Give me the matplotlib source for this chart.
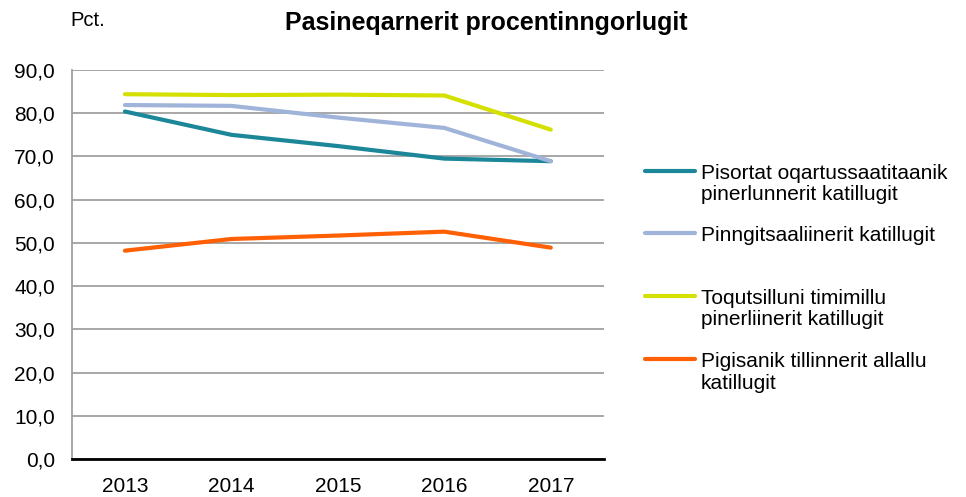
import matplotlib.pyplot as plt
from matplotlib.lines import Line2D

plt.rcParams['font.family'] = ['Liberation Sans', 'DejaVu Sans']

# Data
years = ['2013', '2014', '2015', '2016', '2017']
pisortat = [80.4, 75.0, 72.4, 69.5, 68.9]
pinngitsaaliinerit = [81.9, 81.7, 79.0, 76.6, 68.9]
toqutsilluni = [84.4, 84.2, 84.3, 84.1, 76.2]
pigisanik = [48.2, 50.9, 51.7, 52.6, 48.9]

labels = ['Pisortat oqartussaatitaanik\npinerlunnerit katillugit',
          'Pinngitsaaliinerit katillugit',
          'Toqutsilluni timimillu\npinerliinerit katillugit',
          'Pigisanik tillinnerit allallu\nkatillugit']
colors = ['#1b8799', '#a0b4da', '#d4e000', '#ff5f05']
series = [pisortat, pinngitsaaliinerit, toqutsilluni, pigisanik]

W, H = 966, 497
fig = plt.figure(figsize=(W / 100, H / 100), dpi=100)
ax = fig.add_axes([71.7 / W, 1 - 459 / H, (604 - 71.7) / W, (459 - 70) / H])

x = range(len(years))
for vals, c in zip(series, colors):
    ax.plot(x, vals, color=c, lw=3.0, solid_capstyle='round', zorder=3)

ax.set_xlim(-0.5, len(years) - 0.5)
ax.set_ylim(0, 90)
ax.set_yticks(range(0, 91, 10))
ax.set_yticklabels([f'{v:.1f}'.replace('.', ',') for v in range(0, 91, 10)], fontsize=15)
ax.set_xticks(list(x))
ax.set_xticklabels(years, fontsize=15)
ax.tick_params(axis='y', length=0, pad=12)
ax.tick_params(axis='x', length=0, pad=13)
ax.grid(axis='y', color='#a0a0a0', lw=1.3, zorder=0)
for s in ['top', 'right']:
    ax.spines[s].set_visible(False)
ax.spines['left'].set_color('#a0a0a0')
ax.spines['left'].set_linewidth(1.3)
ax.spines['bottom'].set_color('black')
ax.spines['bottom'].set_linewidth(2)
ax.spines['bottom'].set_zorder(4)

fig.text(486 / W, 1 - 30 / H, 'Pasineqarnerit procentinngorlugit', fontsize=18,
         fontweight='bold', ha='center', va='baseline')
fig.text(70.7 / W, 1 - 26 / H, 'Pct.', fontsize=14.5, ha='left', va='baseline')

# legend, placed by hand like the Excel original
legend_y = [170.7, 233.3, 295.7, 359.3]
for lab, c, ly in zip(labels, colors, legend_y):
    yf = 1 - ly / H
    fig.add_artist(Line2D([645 / W, 695 / W], [yf, yf], color=c, lw=3.0,
                          solid_capstyle='round', transform=fig.transFigure))
    fig.text(701 / W, 1 - (ly - 7) / H, lab, fontsize=15, ha='left', va='top',
             linespacing=1.18)

fig.savefig('out.png', dpi=100)
